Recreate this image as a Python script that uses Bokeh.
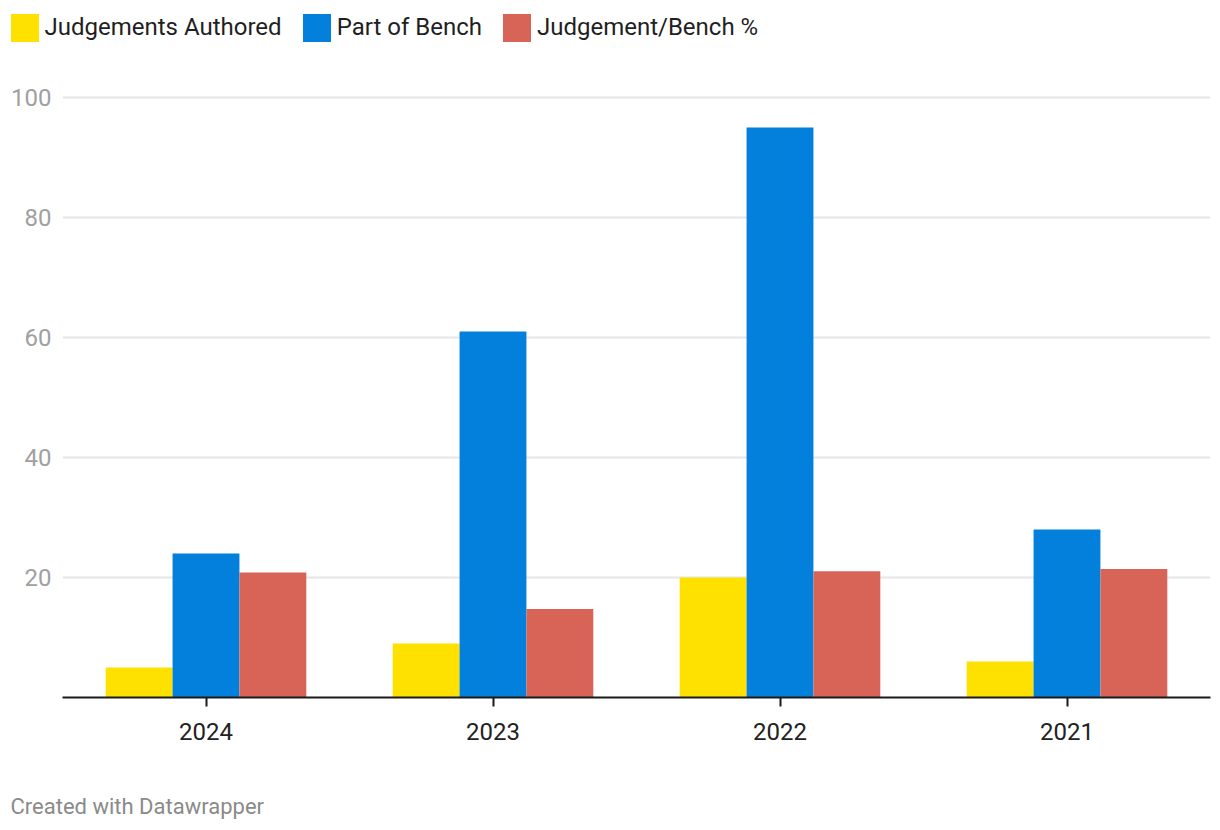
from bokeh.plotting import figure
from bokeh.models import ColumnDataSource, FactorRange, Range1d, FixedTicker, Label, Legend, LegendItem
from bokeh.layouts import column
from bokeh.transform import dodge
from bokeh.embed import file_html
from bokeh.resources import INLINE

years = ["2024", "2023", "2022", "2021"]
authored = [5, 9, 20, 6]
bench = [24, 61, 95, 28]
pct = [20.83, 14.75, 21.05, 21.43]
series_names = ["Judgements Authored", "Part of Bench", "Judgement/Bench %"]
fields = ["authored", "bench", "pct"]
colors = ["#ffe100", "#0380dc", "#d76456"]
y_ticks = [20, 40, 60, 80, 100]

FONT = "Roboto"
W = 1220

src = ColumnDataSource(dict(year=years, authored=authored, bench=bench, pct=pct))

# ---- legend strip ----
top = figure(width=W, height=60, x_range=Range1d(0, 1), y_range=Range1d(0, 1),
             output_backend="svg", toolbar_location=None,
             x_axis_location=None, y_axis_location=None,
             min_border_left=0, min_border_right=0, min_border_top=0, min_border_bottom=0)
top.frame_align = False
top.outline_line_color = None
top.grid.visible = False
items = []
for f, col, name in zip(fields, colors, series_names):
    r = top.vbar(x=f, top=f, width=0.5, source=src, fill_color=col, line_color=None, visible=False)
    items.append(LegendItem(label=name, renderers=[r]))
lg = Legend(items=items, orientation="horizontal", location=(6.5, 15.5), padding=0, margin=0,
            spacing=17, border_line_color=None, background_fill_alpha=0,
            glyph_width=35, glyph_height=35, label_height=35, label_standoff=3,
            inactive_fill_alpha=0,
            label_text_font=FONT, label_text_font_size="24px", label_text_color="#1f1f1f")
top.add_layout(lg)

# ---- main chart ----
p = figure(width=W, height=710, x_range=FactorRange(*years, range_padding=0),
           y_range=Range1d(0, 100.5), output_backend="svg", toolbar_location=None,
           min_border_left=62, min_border_right=10, min_border_top=34, min_border_bottom=73)
p.frame_align = False
p.outline_line_color = None

bw = 0.233
for f, off, col in zip(fields, [-bw, 0, bw], colors):
    p.vbar(x=dodge("year", off, range=p.x_range), top=f, width=bw, source=src,
           fill_color=col, line_color=None)

p.yaxis.ticker = FixedTicker(ticks=y_ticks)
p.yaxis.axis_line_color = None
p.yaxis.major_tick_line_color = None
p.yaxis.minor_tick_line_color = None
p.yaxis.major_label_text_color = "#a0a0a0"
p.yaxis.major_label_text_font = FONT
p.yaxis.major_label_text_font_size = "24px"
p.yaxis.major_label_standoff = 5
p.ygrid.ticker = FixedTicker(ticks=y_ticks)
p.ygrid.grid_line_color = "#e6e6e6"
p.ygrid.grid_line_width = 2
p.xgrid.grid_line_color = None

p.xaxis.axis_line_color = "#1a1a1a"
p.xaxis.axis_line_width = 2
p.xaxis.major_tick_line_color = "#1a1a1a"
p.xaxis.major_tick_line_width = 2
p.xaxis.major_tick_out = 9
p.xaxis.major_tick_in = 0
p.xaxis.major_label_text_color = "#222222"
p.xaxis.major_label_text_font = FONT
p.xaxis.major_label_text_font_size = "24px"
p.xaxis.major_label_standoff = 16

# ---- footer strip ----
foot = figure(width=W, height=60, x_range=Range1d(0, 1), y_range=Range1d(0, 1),
              output_backend="svg", toolbar_location=None,
              x_axis_location=None, y_axis_location=None,
              min_border_left=0, min_border_right=0, min_border_top=0, min_border_bottom=0)
foot.frame_align = False
foot.outline_line_color = None
foot.grid.visible = False
foot.add_layout(Label(x=10, y=24, x_units="screen", y_units="screen",
                      text="Created with Datawrapper", text_font=FONT, text_font_size="22px",
                      text_color="#8a8a8a", text_baseline="alphabetic"))

layout = column(top, p, foot, spacing=0)
open("out.html", "w").write(file_html(layout, INLINE))
